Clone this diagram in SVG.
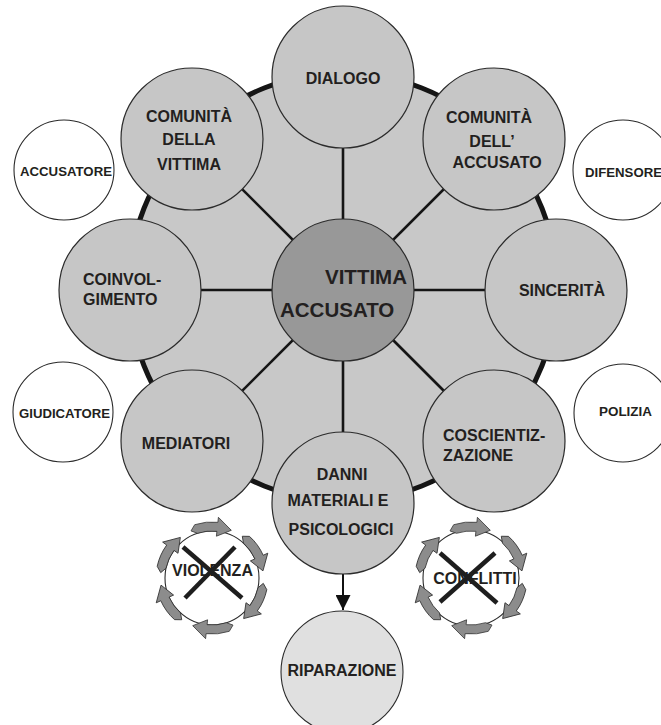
<svg xmlns="http://www.w3.org/2000/svg" xmlns:xlink="http://www.w3.org/1999/xlink" width="661" height="725" viewBox="0 0 661 725">
  <style>
    .lbl { font-family: "Liberation Sans", Arial, sans-serif; font-weight: bold; fill: #231f20; }
    .n16 { font-size: 16px; }
    .n12 { font-size: 12px; }
    .ctr { font-size: 20.5px; }
    .mid { text-anchor: middle; }
    .node { fill: #c6c6c6; stroke: #2b2b2b; stroke-width: 1.2; }
    .white { fill: #ffffff; stroke: #2b2b2b; stroke-width: 1.1; }
    .spoke { stroke: #151515; stroke-width: 2.6; fill: none; }
    .cross { stroke: #1e1e1e; stroke-width: 4.5; stroke-linecap: butt; }
    .swirl { fill: #8c8c8c; stroke: #333333; stroke-width: 0.8; }
  </style>
  <defs>
    <!-- curved clockwise arrow, drawn at the top of a ring centred on the origin -->
    <path id="swirl" class="swirl" d="M -17.3,-53.3 A 56 56 0 0 1 5.9,-55.7 L 6.4,-60.7 L 19.3,-47.7 L 4.4,-41.8 L 4.9,-46.7 A 47 47 0 0 0 -14.5,-44.7 L -21,-47.1 Z"/>
    <marker id="head" viewBox="0 0 10 10" refX="10" refY="5" markerWidth="15" markerHeight="15" markerUnits="userSpaceOnUse" orient="auto">
      <path d="M0,0 L10,5 L0,10 Z" fill="#111"/>
    </marker>
  </defs>

  <rect width="661" height="725" fill="#ffffff"/>

  <!-- background wheel -->
  <circle id="wheel" cx="343" cy="287" r="214" fill="#c8c8c8" stroke="#151515" stroke-width="5"/>

  <!-- connectors -->
  <g id="connectors">
    <line class="spoke" x1="343" y1="290" x2="343" y2="77"/>
    <line class="spoke" x1="343" y1="290" x2="494" y2="139"/>
    <line class="spoke" x1="343" y1="290" x2="556" y2="290"/>
    <line class="spoke" x1="343" y1="290" x2="494" y2="441"/>
    <line class="spoke" x1="343" y1="290" x2="343" y2="503"/>
    <line class="spoke" x1="343" y1="290" x2="192" y2="441"/>
    <line class="spoke" x1="343" y1="290" x2="130" y2="290"/>
    <line class="spoke" x1="343" y1="290" x2="192" y2="139"/>
    <line x1="343" y1="574" x2="343" y2="610" stroke="#111" stroke-width="2" marker-end="url(#head)"/>
  </g>

  <g id="dialogo">
    <circle class="node" cx="343" cy="77" r="71"/>
    <text class="lbl n16 mid" x="343" y="84">DIALOGO</text>
  </g>

  <g id="comunita-accusato">
    <circle class="node" cx="494" cy="139" r="71"/>
    <text class="lbl n16 mid" x="489" y="123">COMUNITÀ</text>
    <text class="lbl n16 mid" x="492" y="147">DELL’</text>
    <text class="lbl n16 mid" x="497" y="168">ACCUSATO</text>
  </g>

  <g id="sincerita">
    <circle class="node" cx="556" cy="290" r="71"/>
    <text class="lbl n16 mid" x="562" y="296">SINCERITÀ</text>
  </g>

  <g id="coscientizzazione">
    <circle class="node" cx="494" cy="441" r="71"/>
    <text class="lbl n16" x="443" y="441">COSCIENTIZ-</text>
    <text class="lbl n16" x="443" y="461">ZAZIONE</text>
  </g>

  <g id="danni">
    <circle class="node" cx="343" cy="503" r="71"/>
    <text class="lbl n16 mid" x="342" y="480">DANNI</text>
    <text class="lbl n16 mid" x="338" y="506">MATERIALI E</text>
    <text class="lbl n16 mid" x="341" y="535">PSICOLOGICI</text>
  </g>

  <g id="mediatori">
    <circle class="node" cx="192" cy="441" r="71"/>
    <text class="lbl n16 mid" x="186" y="449">MEDIATORI</text>
  </g>

  <g id="coinvolgimento">
    <circle class="node" cx="130" cy="290" r="71"/>
    <text class="lbl n16" x="83" y="285">COINVOL-</text>
    <text class="lbl n16" x="83" y="305">GIMENTO</text>
  </g>

  <g id="comunita-vittima">
    <circle class="node" cx="192" cy="139" r="71"/>
    <text class="lbl n16 mid" x="189" y="122">COMUNITÀ</text>
    <text class="lbl n16 mid" x="189" y="145">DELLA</text>
    <text class="lbl n16 mid" x="189" y="170">VITTIMA</text>
  </g>

  <g id="vittima-accusato">
    <circle cx="343" cy="290" r="71" fill="#989898" stroke="#2b2b2b" stroke-width="1.2"/>
    <text class="lbl ctr" x="325" y="284">VITTIMA</text>
    <text class="lbl ctr" x="280" y="317">ACCUSATO</text>
  </g>

  <g id="accusatore">
    <circle class="white" cx="64" cy="170" r="50"/>
    <text class="lbl n12" x="20" y="176" textLength="92" lengthAdjust="spacingAndGlyphs">ACCUSATORE</text>
  </g>

  <g id="difensore">
    <circle class="white" cx="623" cy="170" r="50"/>
    <text class="lbl n12" x="585" y="177" textLength="77" lengthAdjust="spacingAndGlyphs">DIFENSORE</text>
  </g>

  <g id="giudicatore">
    <circle class="white" cx="63" cy="412" r="50"/>
    <text class="lbl n12" x="19" y="418" textLength="91" lengthAdjust="spacingAndGlyphs">GIUDICATORE</text>
  </g>

  <g id="polizia">
    <circle class="white" cx="623" cy="413" r="49"/>
    <text class="lbl n12" x="599" y="416" textLength="53" lengthAdjust="spacingAndGlyphs">POLIZIA</text>
  </g>

  <g id="violenza">
    <circle class="white" cx="212" cy="578" r="47"/>
    <text class="lbl n16 mid" x="212.5" y="576">VIOLENZA</text>
    <line class="cross" x1="183" y1="547" x2="242" y2="598"/>
    <line class="cross" x1="235" y1="547" x2="185" y2="598"/>
    <g transform="translate(212,578)">
      <use xlink:href="#swirl" href="#swirl"/>
      <use xlink:href="#swirl" href="#swirl" transform="rotate(60)"/>
      <use xlink:href="#swirl" href="#swirl" transform="rotate(120)"/>
      <use xlink:href="#swirl" href="#swirl" transform="rotate(180)"/>
      <use xlink:href="#swirl" href="#swirl" transform="rotate(240)"/>
      <use xlink:href="#swirl" href="#swirl" transform="rotate(300)"/>
    </g>
  </g>

  <g id="conflitti">
    <circle class="white" cx="471" cy="578" r="48"/>
    <text class="lbl n16 mid" x="475" y="584">CONFLITTI</text>
    <line class="cross" x1="440" y1="553" x2="497" y2="603"/>
    <line class="cross" x1="495" y1="553" x2="440" y2="602"/>
    <g transform="translate(471,578)">
      <use xlink:href="#swirl" href="#swirl"/>
      <use xlink:href="#swirl" href="#swirl" transform="rotate(60)"/>
      <use xlink:href="#swirl" href="#swirl" transform="rotate(120)"/>
      <use xlink:href="#swirl" href="#swirl" transform="rotate(180)"/>
      <use xlink:href="#swirl" href="#swirl" transform="rotate(240)"/>
      <use xlink:href="#swirl" href="#swirl" transform="rotate(300)"/>
    </g>
  </g>

  <g id="riparazione">
    <circle cx="342" cy="672" r="61" fill="#e0e0e0" stroke="#2b2b2b" stroke-width="1.1"/>
    <text class="lbl n16 mid" x="342" y="676">RIPARAZIONE</text>
  </g>
</svg>
